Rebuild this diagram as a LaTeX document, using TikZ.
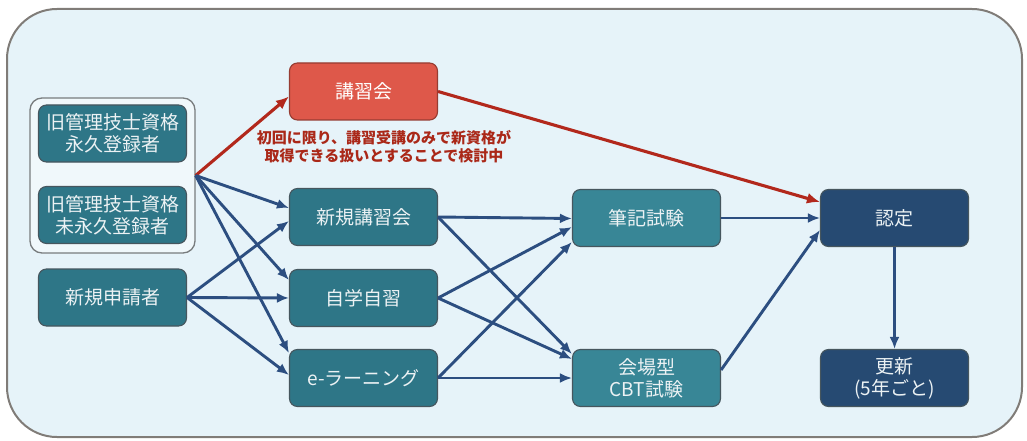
\documentclass[tikz,border=0pt]{standalone}
\usepackage{fontspec}
\setmainfont{Noto Sans CJK JP}
\usetikzlibrary{arrows.meta,calc}
\definecolor{bg}{RGB}{230,243,249}
\definecolor{outerline}{RGB}{128,124,120}
\definecolor{groupline}{RGB}{120,124,126}
\definecolor{tealA}{RGB}{46,118,135}
\definecolor{tealB}{RGB}{56,134,150}
\definecolor{navy}{RGB}{38,74,114}
\definecolor{boxline}{RGB}{70,86,94}
\definecolor{boxtext}{RGB}{236,242,244}
\definecolor{redfill}{RGB}{222,88,74}
\definecolor{redline}{RGB}{150,60,50}
\definecolor{arrblue}{RGB}{44,78,128}
\definecolor{arrred}{RGB}{178,40,28}
\definecolor{notered}{RGB}{170,40,24}
\begin{document}
\begin{tikzpicture}[x=1pt,y=-1pt,
  box/.style={draw=boxline, line width=1.1pt, rounded corners=8pt,
    minimum width=148pt, minimum height=57pt, inner sep=0pt, align=center,
    font=\fontsize{19}{22}\selectfont, text=boxtext},
  tealbox/.style={box, fill=tealA},
  exambox/.style={box, fill=tealB},
  navybox/.style={box, fill=navy},
  redbox/.style={box, fill=redfill, draw=redline, text=white},
  groupbox/.style={draw=groupline, line width=1.3pt, rounded corners=12pt,
    fill=bg!60!white, minimum width=165pt, minimum height=155pt},
  arr/.style={draw=arrblue, line width=2.9pt, -{Latex[length=12pt,width=10pt]}},
  redarr/.style={draw=arrred, line width=3.1pt, -{Latex[length=13pt,width=11pt]}},
  notetext/.style={text=notered, align=center, font=\bfseries\fontsize{15}{18}\selectfont}
]
\useasboundingbox (0,0) rectangle (1027,441);
\draw[fill=bg, draw=outerline, line width=2pt, rounded corners=50pt] (7,9) rectangle (1022,437);

\node[groupbox] (G) at (112.5,175.5) {};
\node[tealbox] (A1) at (112.5,133.5) {旧管理技士資格\\永久登録者};
\node[tealbox] (A2) at (112.5,215) {旧管理技士資格\\未永久登録者};
\node[tealbox] (A3) at (112.5,297.5) {新規申請者};

\node[redbox] (K) at (363.5,91.5) {講習会};
\node[tealbox] (B1) at (363.5,217) {新規講習会};
\node[tealbox] (B2) at (363.5,298) {自学自習};
\node[tealbox] (B3) at (363.5,378) {e-ラーニング};

\node[exambox] (C1) at (646.5,218) {筆記試験};
\node[exambox] (C2) at (646.5,378) {会場型\\CBT試験};

\node[navybox] (D1) at (894.5,218) {認定};
\node[navybox] (D2) at (894.5,378) {更新\\(5年ごと)};

\node[notetext] (N) at (384,147) {初回に限り、講習受講のみで新資格が\\取得できる扱いとすることで検討中};

% red arrows
\draw[redarr] (G.east) -- ([yshift=-5pt]K.west);
\draw[redarr] (K.east) -- ([yshift=16pt]D1.west);

% from group
\draw[arr] (G.east) -- ([yshift=9pt]B1.west);
\draw[arr] (G.east) -- ([yshift=18pt]B2.west);
\draw[arr] (G.east) -- ([yshift=25pt]B3.west);
% from new applicants
\draw[arr] (A3.east) -- ([yshift=-4pt]B1.west);
\draw[arr] (A3.east) -- (B2.west);
\draw[arr] (A3.east) -- ([yshift=3pt]B3.west);

% middle to exams
\draw[arr] (B1.east) -- ([yshift=-0.5pt]C1.west);
\draw[arr] (B1.east) -- ([yshift=24pt]C2.west);
\draw[arr] (B2.east) -- ([yshift=-9pt]C1.west);
\draw[arr] (B2.east) -- ([yshift=19pt]C2.west);
\draw[arr] (B3.east) -- ([yshift=-24pt]C1.west);
\draw[arr] (B3.east) -- (C2.west);

% exams to certification
\draw[arr] (C1.east) -- (D1.west);
\draw[arr] ([yshift=8pt]C2.east) -- ([yshift=-12pt]D1.west);
\draw[arr] (D1.south) -- (D2.north);
\end{tikzpicture}
\end{document}
